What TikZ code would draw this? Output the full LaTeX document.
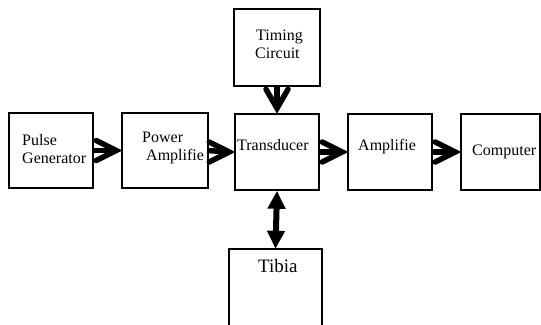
\documentclass[tikz,border=0pt]{standalone}
\usepackage{fontspec}
\setmainfont{Liberation Serif}
\usetikzlibrary{arrows.meta,calc}
\tikzset{
  blk/.style={draw, line width=1.5bp, rectangle, inner sep=0pt},
  lbl/.style={anchor=base west, inner sep=0pt, font=\fontsize{16bp}{18bp}\selectfont},
  shaft/.style={line width=5.5bp, line cap=butt},
  chev/.style={line width=5.5bp, line join=miter, line cap=round},
  dbl/.style={line width=6bp, {Triangle[length=18bp, width=17bp]}-{Triangle[length=18bp, width=17bp]}}
}
\begin{document}
\begin{tikzpicture}[x=1bp, y=-1bp]
\useasboundingbox (0,0) rectangle (541,324);
% boxes
\node[blk, minimum width=84bp, minimum height=75bp] (pulse) at (51,150.5) {};
\node[blk, minimum width=86bp, minimum height=75bp] (power) at (165,150.5) {};
\node[blk, minimum width=84bp, minimum height=76bp] (trans) at (277,152) {};
\node[blk, minimum width=84bp, minimum height=76bp] (amp) at (390,152) {};
\node[blk, minimum width=79bp, minimum height=76bp] (comp) at (500.5,152) {};
\node[blk, minimum width=86bp, minimum height=77bp] (timing) at (277,47.5) {};
\node[rectangle, inner sep=0pt, minimum width=93bp, minimum height=76bp] (tibia) at (275.5,287) {};
\draw[line width=1.5bp] (tibia.south west) -- (tibia.north west) -- (tibia.north east) -- (tibia.south east);
% texts
\node[lbl] (t1) at (22,145) {Pulse};
\node[lbl] (t2) at (22,163) {Generator};
\node[lbl] (t3) at (142,142) {Power};
\node[lbl] (t4) at (146,160) {Amplifie};
\node[lbl] (t5) at (237,150) {Transducer};
\node[lbl] (t6) at (358,150) {Amplifie};
\node[lbl] (t7) at (472,155) {Computer};
\node[lbl] (t8) at (256,40) {Timing};
\node[lbl] (t9) at (255,58) {Circuit};
\node[lbl, font=\fontsize{19bp}{22bp}\selectfont] (t10) at (258,272) {Tibia};
% connectors (thick chevron arrows)
\foreach \a/\b in {pulse/power, power/trans, trans/amp, amp/comp}{
  \draw[shaft] (\a.east) -- ($(\b.west)+(-8,0)$);
  \draw[chev] ($(\b.west)+(-25,-10)$) -- ($(\b.west)+(-5,0)$) -- ($(\b.west)+(-25,10)$);
}
\draw[shaft] (timing.south) -- ($(trans.north)+(0,-8)$);
\draw[chev] ($(trans.north)+(-11,-24)$) -- ($(trans.north)+(0,-5)$) -- ($(trans.north)+(11,-24)$);
\draw[dbl] (trans.south) -- (tibia.north);
\end{tikzpicture}
\end{document}
